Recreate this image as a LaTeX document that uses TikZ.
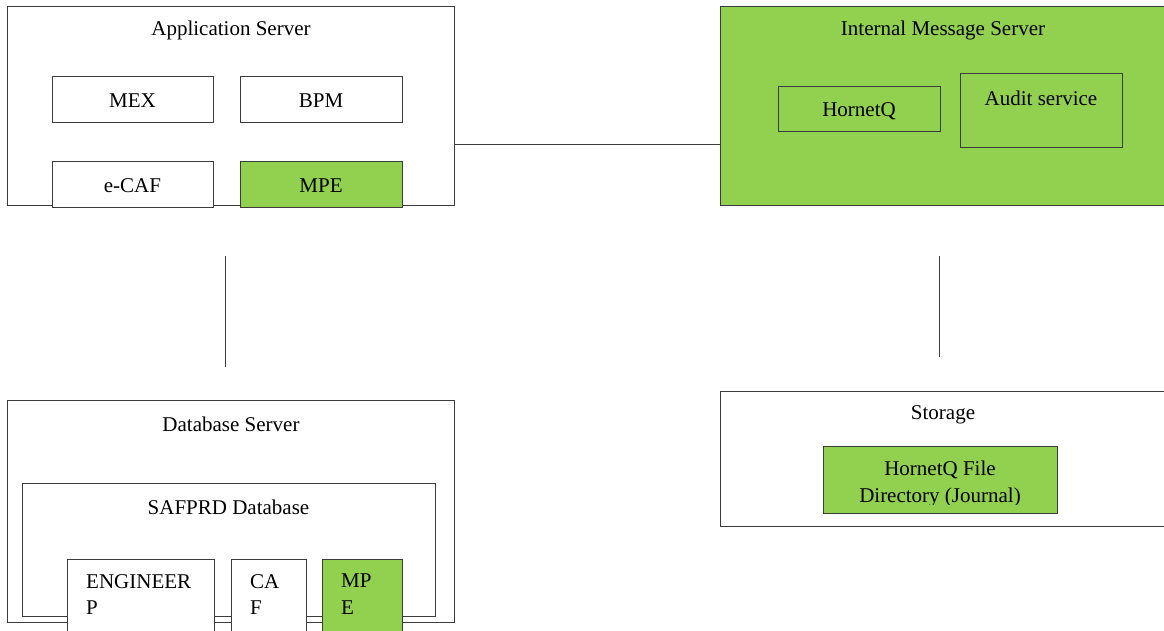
\documentclass[tikz,border=0pt]{standalone}
\usepackage{fontspec}
\setmainfont{Liberation Serif}
\definecolor{lgreen}{RGB}{146,208,80}
\definecolor{edge}{RGB}{60,60,60}
\begin{document}
\begin{tikzpicture}[x=1pt,y=-1pt,
  every node/.style={font=\fontsize{21}{26.5}\selectfont},
  box/.style={draw=edge, line width=1pt, fill=white, inner sep=0pt, rectangle},
  gbox/.style={box, fill=lgreen},
  lbl/.style={inner sep=0pt, align=center},
  conn/.style={draw=edge, line width=1pt}]
\useasboundingbox (0,0) rectangle (1164,631);
% Application server
\node[box, minimum width=447pt, minimum height=199pt] (app) at (230.5,106.5) {};
\node[lbl] (appt) at (231,30) {Application Server};
\node[box, minimum width=161pt, minimum height=46pt] (mex) at (132.5,100) {};
\node[lbl] (mext) at (132.5,101) {MEX};
\node[box, minimum width=162pt, minimum height=46pt] (bpm) at (321,100) {};
\node[lbl] (bpmt) at (321,101) {BPM};
\node[box, minimum width=161pt, minimum height=46pt] (ecaf) at (132.5,185) {};
\node[lbl] (ecaft) at (132.5,186) {e-CAF};
\node[gbox, minimum width=162pt, minimum height=46pt] (mpe) at (321,185) {};
\node[lbl] (mpet) at (321,186) {MPE};
% Internal message server
\node[gbox, minimum width=446pt, minimum height=199pt] (ims) at (943,106.5) {};
\node[lbl] (imst) at (943,30) {Internal Message Server};
\node[gbox, minimum width=162pt, minimum height=45pt] (hq) at (859,109.5) {};
\node[lbl] (hqt) at (859,111) {HornetQ};
\node[gbox, minimum width=162pt, minimum height=74pt] (audit) at (1041,111) {};
\node[lbl] (auditt) at (1041,98) {Audit service};
% connectors
\draw[conn] (app.east |- 0,145) -- (ims.west |- 0,145);
\coordinate (v1a) at (225,256); \coordinate (v1b) at (225,367);
\coordinate (v2a) at (939,256); \coordinate (v2b) at (939,357);
\draw[conn] (v1a) -- (v1b);
\draw[conn] (v2a) -- (v2b);
% Database server
\node[box, minimum width=447pt, minimum height=222pt] (db) at (230.5,511) {};
\node[lbl] (dbt) at (231,424) {Database Server};
\node[box, minimum width=413pt, minimum height=133pt] (saf) at (228.5,549.5) {};
\node[lbl] (saft) at (228.5,507) {SAFPRD Database};
\node[box, minimum width=147pt, minimum height=90pt] (eng) at (140.5,604) {};
\node[lbl, anchor=north west, align=left] (engt) at (86,574) {ENGINEER\\P};
\node[box, minimum width=75pt, minimum height=90pt] (caf) at (268.5,604) {};
\node[lbl, anchor=north west, align=left] (caft) at (250,574) {CA\\F};
\node[gbox, minimum width=80pt, minimum height=90pt] (mpe2) at (362,604) {};
\node[lbl, anchor=north west, align=left] (mpe2t) at (341,574) {MP\\E};
% Storage
\node[box, minimum width=446pt, minimum height=135pt] (st) at (943,458.5) {};
\node[lbl] (stt) at (943,415) {Storage};
\node[gbox, minimum width=234pt, minimum height=67pt] (hqfd) at (940,479.5) {};
\begin{scope}
\clip (hqfd.north west) rectangle (hqfd.east |- 0,504);
\node[lbl, anchor=north] (hqfdt) at (940,461) {HornetQ File\\Directory (Journal)};
\end{scope}
\end{tikzpicture}
\end{document}
